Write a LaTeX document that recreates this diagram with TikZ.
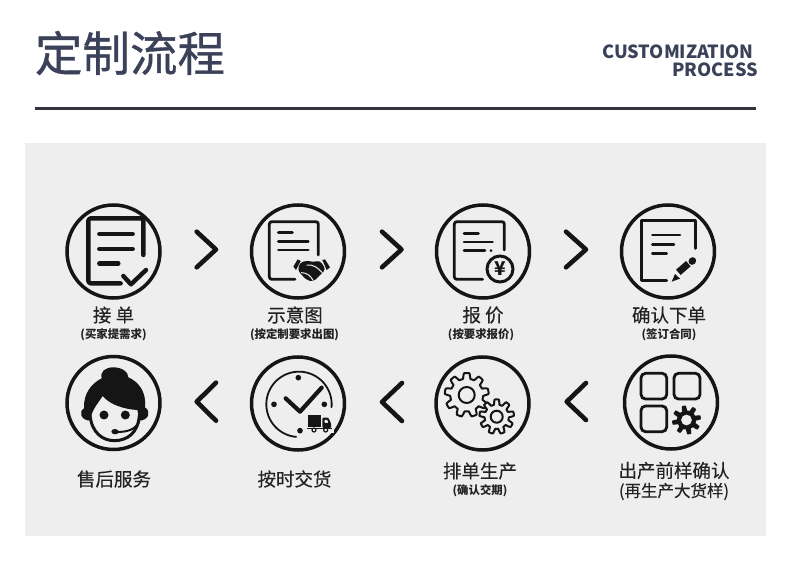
\documentclass[tikz,border=0pt]{standalone}
\usepackage{fontspec}
\setmainfont{Noto Sans CJK SC}
\newfontfamily\titlefont[FakeBold=0.7]{Noto Sans CJK SC}
\newfontfamily\medfont[FakeBold=0.25]{Noto Sans CJK SC}
\usetikzlibrary{calc}
\definecolor{panel}{HTML}{EEEEEE}
\definecolor{ink}{HTML}{151515}
\definecolor{slate}{HTML}{3B4158}
\definecolor{txt}{HTML}{222222}
\definecolor{rulecol}{HTML}{33343F}
\tikzset{
  z/.style 2 args={shift={(#1,#2)},x=0.33333pt,y=-0.33333pt},
  ring/.style={draw=ink,line width=3.5pt,circle,minimum size=93pt,inner sep=0pt},
  chev/.style={draw=ink,line width=4.6pt,line cap=round,line join=round},
  docline/.style={draw=ink,line width=#1,line cap=round,line join=round,rounded corners=2.5pt},
  docline/.default=2.8pt,
  bar/.style={draw=ink,line width=#1,line cap=round},
  bar/.default=2.6pt,
  main/.style={font=\medfont\fontsize{18.5pt}{20pt}\selectfont,text=txt,inner sep=0pt},
  sub/.style={font=\bfseries\fontsize{11.4pt}{13pt}\selectfont,text=txt,inner sep=0pt},
  eng/.style={font=\bfseries\fontsize{18.1pt}{20pt}\selectfont,text=slate,inner sep=0pt,anchor=east},
}
\newcommand{\gearplot}[5]{plot[domain=0:360,samples=289] ({#1+(#3+#4*max(-1,min(1,2.2*sin(#5*\x+180))))*cos(\x)},{#2+(#3+#4*max(-1,min(1,2.2*sin(#5*\x+180))))*sin(\x)}) -- cycle}
\begin{document}
\begin{tikzpicture}[x=1pt,y=-1pt]
\useasboundingbox (0,0) rectangle (790,567);
\fill[white] (0,0) rectangle (790,567);
% header
\node[font=\titlefont\fontsize{47.5pt}{50pt}\selectfont,text=slate,inner sep=0pt] (title) at (130,53) {定制流程};
\node[eng] (en1) at (754,51.5) {CUSTOMIZATION};
\node[eng] (en2) at (758,69.5) {PROCESS};
\fill[rulecol] (35,107.5) rectangle (756,110.5);
\fill[panel] (25,143) rectangle (766,536);
% rings
\node[ring] (r1) at (113.5,251.5) {};
\node[ring] (r2) at (298,251.5) {};
\node[ring] (r3) at (483,251.5) {};
\node[ring] (r4) at (668,251.5) {};
\node[ring] (r5) at (113.5,403) {};
\node[ring] (r6) at (298,403.5) {};
\node[ring] (r7) at (482.5,403.5) {};
\node[ring] (r8) at (671,402.5) {};
% chevrons
\draw[chev] (196.7,231.7) -- (216,249.5) -- (196.7,267.3);
\draw[chev] (382,231.7) -- (401.5,249.5) -- (382,267.3);
\draw[chev] (566,231.7) -- (586,249.5) -- (566,267.3);
\draw[chev] (216,382.7) -- (196.7,401.7) -- (216,420.7);
\draw[chev] (402,383) -- (382,402) -- (402,421);
\draw[chev] (586,383) -- (566.7,401.7) -- (586,420);
% icon 1
\begin{scope}[z={50}{190}]
\draw[docline=4.4pt] (212,280) -- (115,280) -- (115,85) -- (280,85) -- (280,195);
\draw[bar=4.4pt] (148,132) -- (248,132);
\draw[bar=4.4pt] (148,177) -- (248,177);
\draw[bar=4.4pt] (148,220) -- (205,220);
\draw[bar=4.4pt,line join=round] (220,258) -- (243,283) -- (288,240);
\end{scope}
% icon 2
\begin{scope}[z={50}{190}]
\draw[docline] (735,268) -- (658,268) -- (658,95) -- (805,95) -- (805,195);
\draw[bar=3pt] (685,128) -- (727,128);
\draw[bar] (685,155) -- (775,155);
\draw[bar] (685,180) -- (775,180);
\end{scope}
\begin{scope}[z={285}{250}]
\fill[ink] (25,50) -- (38,28) -- (47,33) -- (33,60) -- cycle;
\fill[ink] (112,30) -- (120,28) -- (135,52) -- (125,60) -- cycle;
\fill[ink,rounded corners=3pt] (45,38) -- (65,32) -- (85,36) -- (105,32) -- (122,58) -- (105,75) -- (85,95) -- (65,90) -- (50,75) -- (38,60) -- cycle;
\draw[panel,line width=1pt] (48,68) .. controls (65,68) and (75,75) .. (85,92);
\draw[panel,line width=1pt] (65,45) .. controls (85,42) and (100,55) .. (112,68);
\end{scope}
% icon 3
\begin{scope}[z={420}{190}]
\draw[docline] (188,268) -- (103,268) -- (103,95) -- (253,95) -- (253,180);
\draw[bar=3pt] (132,130) -- (175,130);
\draw[bar] (132,156) -- (218,156);
\draw[bar] (132,182) -- (195,182);
\fill[ink] (213,182) circle (4.5);
\node[draw=ink,line width=3pt,circle,minimum size=26pt,inner sep=0pt,fill=panel,font=\bfseries\fontsize{19pt}{19pt}\selectfont,text=ink] (yen) at (240,237) {¥};
\end{scope}
% icon 4
\begin{scope}[z={420}{190}]
\draw[draw=ink,line width=3pt,line cap=round,line join=round] (740,272) -- (665,272) -- (665,92) -- (825,92) -- (825,175);
\draw[bar] (697,135) -- (780,135);
\draw[bar] (697,163) -- (762,163);
\draw[bar] (697,190) -- (740,190);
\draw[ink,line width=7pt] (775,247) -- (805,221);
\draw[ink,line width=7pt,line cap=round] (816,214) -- (818,212);
\fill[ink] (755,275) -- (765,252) -- (780,266) -- cycle;
\end{scope}
% icon 5 (face)
\begin{scope}[z={60}{350}]
\draw[ink,line width=3pt,line cap=round] (90,195) .. controls (95,250) and (130,272) .. (163,272) .. controls (200,272) and (235,250) .. (238,195);
\fill[ink] (160,52) .. controls (135,52) and (120,65) .. (125,85)
  .. controls (95,100) and (70,130) .. (72,175) .. controls (55,185) and (62,212) .. (92,212)
  .. controls (92,185) and (110,165) .. (128,138) .. controls (150,165) and (195,178) .. (232,180)
  .. controls (235,190) and (236,200) .. (237,212) .. controls (265,212) and (275,185) .. (255,172)
  .. controls (260,125) and (235,95) .. (205,82) .. controls (205,65) and (185,52) .. (160,52) -- cycle;
\fill[ink] (132,195) circle (13.5);
\fill[ink] (196,195) circle (13.5);
\draw[ink,line width=2pt,line cap=round] (170,246) .. controls (205,246) and (225,238) .. (238,215);
\fill[ink,rotate around={-5:(165,245)}] (165,245) ellipse (11 and 8);
\end{scope}
% icon 6 (clock)
\begin{scope}[z={50}{345}]
\draw[ink,line width=1.8pt,line cap=round] plot[domain=95:365,samples=80] ({747+98*cos(\x)},{178+98*sin(\x)});
\fill[ink] (745,98) circle (8.5);
\fill[ink] (672,178) circle (8.5);
\fill[ink] (823,178) circle (8.5);
\fill[ink] (750,257) circle (8.5);
\draw[ink,line width=4.2pt,line cap=round,line join=round] (707,160) -- (750,200) -- (815,128);
\end{scope}
\begin{scope}[z={295}{400}]
\fill[panel] (30,38) rectangle (116,100);
\fill[ink] (40,44) rectangle (78,82);
\fill[ink,even odd rule,rounded corners=1pt] (82,53) -- (100,53) -- (108,70) -- (108,84) -- (82,84) -- cycle (88,59) -- (97,59) -- (101,69) -- (88,69) -- cycle;
\draw[ink,line width=0.9pt] (36,86) -- (112,86);
\draw[ink,line width=1.2pt,fill=panel] (57,90) circle (6);
\draw[ink,line width=1.2pt,fill=panel] (92,90) circle (6);
\end{scope}
% icon 7 (gears)
\begin{scope}[line width=2pt,line join=round]
\draw[ink,fill=panel] \gearplot{466.7}{395}{19.2}{2.8}{9};
\draw[ink] (466.7,395) circle (8);
\draw[ink,fill=panel] \gearplot{496.7}{416.7}{14.7}{2.6}{9};
\draw[ink] (496.7,416.7) circle (6);
\end{scope}
% icon 8
\begin{scope}[z={410}{345}]
\draw[ink,line width=2.8pt,rounded corners=4.5pt] (693,85) rectangle (770,162);
\draw[ink,line width=2.8pt,rounded corners=4.5pt] (792,85) rectangle (870,162);
\draw[ink,line width=2.8pt,rounded corners=4.5pt] (693,183) rectangle (770,260);
\end{scope}
\fill[ink,even odd rule] \gearplot{686.5}{420}{12}{2.5}{8} (686.5,420) circle (5.5);
% labels
\node[main] (t1) at (113.5,315) {接 单};
\node[sub] (s1) at (113.5,335) {(买家提需求)};
\node[main] (t2) at (295,315) {示意图};
\node[sub] (s2) at (294.5,335) {(按定制要求出图)};
\node[main] (t3) at (483,315) {报 价};
\node[sub] (s3) at (481,335) {(按要求报价)};
\node[main] (t4) at (669,315) {确认下单};
\node[sub] (s4) at (669,335) {(签订合同)};
\node[main] (t5) at (114,479) {售后服务};
\node[main] (t6) at (294.5,479) {按时交货};
\node[main] (t7) at (480,471) {排单生产};
\node[sub] (s7) at (480,491) {(确认交期)};
\node[main] (t8) at (674,470.5) {出产前样确认};
\node[main,font=\medfont\fontsize{16.5pt}{18pt}\selectfont] (s8) at (674,491.5) {(再生产大货样)};
\end{tikzpicture}
\end{document}
